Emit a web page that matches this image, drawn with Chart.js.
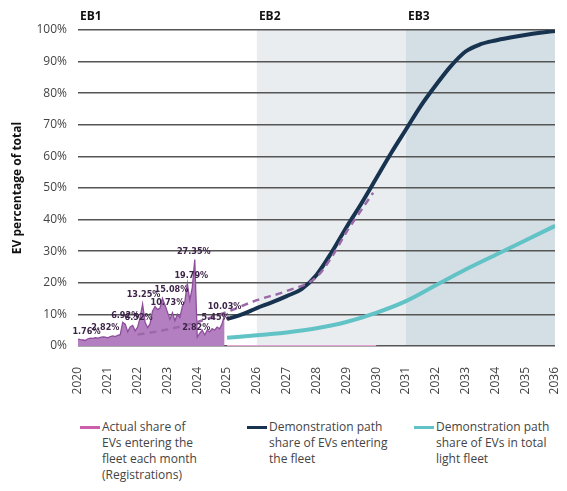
<!DOCTYPE html>
<html lang="en">
<head>
  <meta charset="UTF-8" />
  <title>EV share of light fleet – demonstration path</title>
  <script src="https://cdn.jsdelivr.net/npm/chart.js"></script>
  <style>
    body {
      margin: 0;
      background: #fff;
      font-family: "Open Sans", sans-serif;
    }
    #wrap {
      position: relative;
      width: 567px;
      height: 491px;
      overflow: hidden;
    }
    canvas {
      position: absolute;
      left: 0;
      top: 0;
    }
    .legend-item {
      position: absolute;
      top: 419px;
      font-size: 12px;
      line-height: 16px;
      color: #444;
    }
    .legend-item .swatch {
      position: absolute;
      left: -22px;
      top: 7px;
      width: 20px;
      height: 3px;
    }
  </style>
</head>
<body>
  <div id="wrap">
    <canvas id="evChart" width="567" height="400"></canvas>
    <div class="legend-item" style="left:102px">
      <span class="swatch" style="background:#cc5fa9"></span>
      Actual share of<br />EVs entering the<br />fleet each month<br />(Registrations)
    </div>
    <div class="legend-item" style="left:269px">
      <span class="swatch" style="background:#173350"></span>
      Demonstration path<br />share of EVs entering<br />the fleet
    </div>
    <div class="legend-item" style="left:436px">
      <span class="swatch" style="background:#62c3c6"></span>
      Demonstration path<br />share of EVs in total<br />light fleet
    </div>
  </div>

  <script>
    // monthly actual share of EV registrations, Jan 2020 .. Dec 2024 (%)
    const actualShare = [
      2.2, 2.0, 1.9, 1.76, 2.3, 2.5, 2.4, 2.6, 2.5, 2.7, 2.9, 2.82,
      2.6, 3.0, 3.2, 3.0, 3.4, 3.6, 7.5, 6.92, 4.5, 6.0, 6.52, 4.8,
      6.0, 9.0, 13.25, 7.5, 5.8, 7.0, 11.0, 12.5, 11.5, 12.0, 15.08, 13.0,
      10.73, 8.5, 10.5, 8.0, 10.0, 9.0, 12.5, 14.0, 19.79, 14.5, 18.5, 27.35,
      2.82, 4.0, 5.0, 3.5, 5.0, 4.5, 5.5, 5.0, 6.0, 5.45, 7.0, 10.03
    ];
    const actualStartYear = 2020;
    // months that carry a value label
    const labelledMonths = [3, 11, 19, 22, 26, 34, 36, 44, 47, 48, 57, 59];

    // trend of the actual share (dashed)
    const trendYears = [2022, 2023, 2024, 2025, 2026, 2027, 2028, 2028.5, 2029, 2029.5, 2029.9];
    const trendShare = [3.6, 5.2, 7.6, 10.8, 14.5, 17.4, 21.8, 28, 36, 43, 48.5];

    // demonstration path, share of EVs entering the fleet
    const entryYears = [2025, 2025.5, 2026, 2026.5, 2027, 2027.5, 2028, 2028.5, 2029, 2029.5,
      2030, 2030.5, 2031, 2031.5, 2032, 2032.5, 2033, 2033.5, 2034, 2034.5, 2035, 2035.5, 2036];
    const entryShare = [8.5, 10, 12, 13.8, 15.8, 18, 22.5, 29.5, 37.5, 45,
      53, 61, 68.5, 76, 82.5, 88.5, 93.2, 95.5, 96.7, 97.6, 98.4, 99.1, 99.7];

    // demonstration path, share of EVs in total light fleet
    const fleetYears = [2025, 2026, 2027, 2028, 2029, 2030, 2031, 2032, 2033, 2034, 2035, 2036];
    const fleetShare = [2.6, 3.4, 4.3, 5.6, 7.6, 10.5, 14.2, 19.2, 24.2, 28.8, 33.4, 38];

    // pink base line under the dashed trend
    const baseYears = [2025, 2030];
    const baseShare = [0, 0];

    // emissions budget periods
    const budgetStarts = [2020, 2026, 2031];
    const budgetEnds = [2026, 2031, 2036];
    const budgetLabels = ["EB1", "EB2", "EB3"];
    const budgetColors = [null, "#e9edf0", "#d4dee5"];

    const toPoints = (xs, ys) => xs.map((x, i) => ({ x: x, y: ys[i] }));
    const actualPoints = actualShare.map((v, i) => ({ x: actualStartYear + i / 12, y: v }));

    const tickFont = { family: "'Open Sans', sans-serif", size: 12 };

    const bandsPlugin = {
      id: "bands",
      beforeDraw(chart) {
        const { ctx, chartArea, scales } = chart;
        ctx.save();
        budgetStarts.forEach((start, i) => {
          const x0 = scales.x.getPixelForValue(start);
          const x1 = scales.x.getPixelForValue(budgetEnds[i]);
          if (budgetColors[i]) {
            ctx.fillStyle = budgetColors[i];
            ctx.fillRect(x0, chartArea.top, x1 - x0, chartArea.bottom - chartArea.top);
          }
          ctx.fillStyle = "#111";
          ctx.font = "bold 12px 'Open Sans', sans-serif";
          ctx.textBaseline = "middle";
          ctx.textAlign = "left";
          ctx.fillText(budgetLabels[i], x0 + 2, chartArea.top - 13);
        });
        ctx.restore();
      },
    };

    // small offsets so labels sit like in the original
    const labelDx = [1, 0, 0, 6, 1, 9, 0, 4, -1, -1, -4, 0];
    const labelDy = [-9, -9, -8, -8, -9, -9, -9, -8, -8, -9, -11, -8];

    const valueLabelsPlugin = {
      id: "valueLabels",
      afterDatasetsDraw(chart) {
        const { ctx, scales } = chart;
        ctx.save();
        ctx.font = "bold 9px 'Liberation Sans Narrow', 'DejaVu Sans Condensed', sans-serif";
        ctx.fillStyle = "#3d2448";
        ctx.textAlign = "center";
        ctx.textBaseline = "middle";
        labelledMonths.forEach((m, i) => {
          const p = actualPoints[m];
          const x = scales.x.getPixelForValue(p.x) + labelDx[i];
          const y = scales.y.getPixelForValue(p.y) + labelDy[i];
          ctx.fillText(p.y.toFixed(2) + "%", x, y);
        });
        ctx.restore();
      },
    };

    const ctx = document.getElementById("evChart").getContext("2d");
    new Chart(ctx, {
      type: "line",
      data: {
        datasets: [
          {
            label: "Trend",
            data: toPoints(trendYears, trendShare),
            borderColor: "#9a6aa8",
            borderWidth: 2.5,
            borderDash: [7, 5],
            pointRadius: 0,
            cubicInterpolationMode: "monotone",
            fill: false,
            order: 1,
          },
          {
            label: "Demonstration path share of EVs entering the fleet",
            data: toPoints(entryYears, entryShare),
            borderColor: "#173350",
            borderWidth: 4,
            pointRadius: 0,
            cubicInterpolationMode: "monotone",
            fill: false,
            order: 2,
          },
          {
            label: "Demonstration path share of EVs in total light fleet",
            data: toPoints(fleetYears, fleetShare),
            borderColor: "#62c3c6",
            borderWidth: 4,
            pointRadius: 0,
            cubicInterpolationMode: "monotone",
            fill: false,
            order: 3,
          },
          {
            label: "base",
            data: toPoints(baseYears, baseShare),
            borderColor: "#e4a3d3",
            borderWidth: 2,
            pointRadius: 0,
            fill: false,
            order: 4,
          },
          {
            label: "Actual share of EVs entering the fleet each month (Registrations)",
            data: actualPoints,
            borderColor: "#8d4f9b",
            backgroundColor: "#b47fc1",
            borderWidth: 1.3,
            pointRadius: 0,
            tension: 0,
            fill: "origin",
            order: 5,
          },
        ],
      },
      options: {
        responsive: false,
        animation: false,
        layout: { padding: { top: 30, right: 12, left: 0, bottom: 0 } },
        plugins: {
          legend: { display: false },
          tooltip: { enabled: false },
        },
        scales: {
          x: {
            type: "linear",
            min: 2020,
            max: 2036,
            ticks: {
              stepSize: 1,
              minRotation: 90,
              maxRotation: 90,
              padding: 13,
              color: "#444",
              font: tickFont,
              callback: (v) => String(v),
            },
            grid: { display: false },
            border: { display: false },
            afterFit: (s) => {
              s.height = 54;
              s.paddingLeft = 0;
              s.paddingRight = 0;
            },
          },
          y: {
            min: 0,
            max: 100,
            ticks: {
              stepSize: 10,
              padding: 11,
              color: "#444",
              font: tickFont,
              callback: (v) => v + "%",
            },
            grid: { color: "#555", lineWidth: 1.5, drawTicks: false },
            border: { display: false },
            title: {
              display: true,
              text: "EV percentage of total",
              color: "#111",
              font: { family: "'Open Sans', sans-serif", size: 12, weight: "bold" },
              padding: { top: 10, bottom: 0 },
            },
            afterFit: (s) => { s.width = 78; },
          },
        },
      },
      plugins: [bandsPlugin, valueLabelsPlugin],
    });
  </script>
</body>
</html>
